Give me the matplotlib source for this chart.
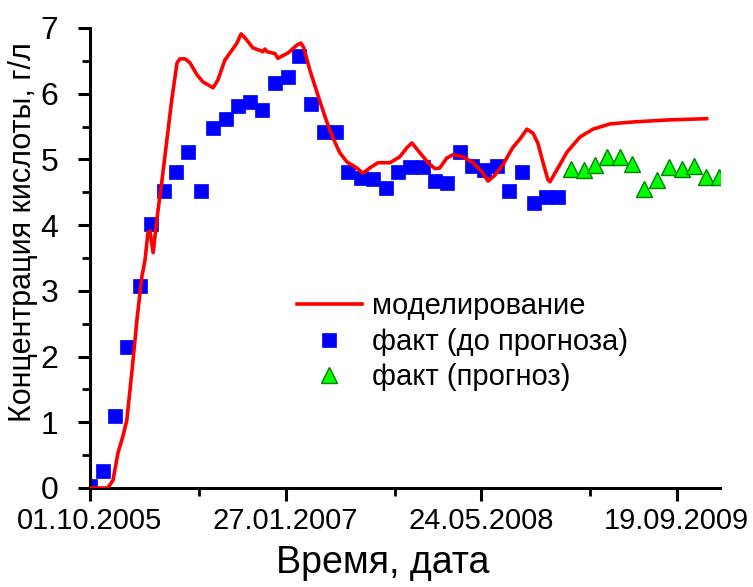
import matplotlib

matplotlib.use("Agg")

import matplotlib.dates as mdates
import matplotlib.pyplot as plt
import pandas as pd
from matplotlib.ticker import FixedLocator, MultipleLocator

OUT_PATH = "out.png"

START = pd.Timestamp("2005-10-01")
X_END = pd.Timestamp("2010-01-04")
TICK_STEP_DAYS = 483
MINOR_OFFSET_DAYS = 270

# model curve: days since 01.10.2005 and concentration, g/l
MODEL_DAYS = [
    0, 44, 57, 69, 81, 91, 104, 116, 128, 136, 143, 148, 156, 165, 178, 190,
    202, 215, 222, 235, 247, 264, 279, 304, 316, 333, 341, 363, 373, 383, 402,
    427, 432, 437, 457, 464, 489, 511, 521, 528, 543, 568, 585, 600, 617, 635,
    659, 674, 691, 711, 741, 765, 783, 795, 815, 835, 852, 864, 881, 896, 921,
    946, 968, 983, 1000, 1020, 1044, 1062, 1079, 1094, 1106, 1119, 1131, 1136,
    1153, 1178, 1210, 1242, 1284, 1341, 1425, 1523,
]
MODEL_VALUES = [
    0.00, 0.00, 0.12, 0.53, 0.78, 1.03, 1.80, 2.56, 3.21, 3.47, 3.88, 3.91,
    3.58, 4.08, 4.69, 5.30, 5.91, 6.47, 6.53, 6.53, 6.47, 6.29, 6.18, 6.09,
    6.21, 6.51, 6.58, 6.77, 6.91, 6.85, 6.70, 6.64, 6.68, 6.64, 6.61, 6.54,
    6.62, 6.74, 6.77, 6.70, 6.36, 5.88, 5.57, 5.33, 5.10, 4.96, 4.87, 4.79,
    4.87, 4.95, 4.95, 5.04, 5.18, 5.25, 5.10, 4.95, 4.86, 4.87, 5.02, 5.07,
    5.04, 4.95, 4.81, 4.67, 4.76, 4.92, 5.18, 5.31, 5.46, 5.40, 5.25, 4.95,
    4.69, 4.66, 4.84, 5.11, 5.34, 5.46, 5.54, 5.57, 5.60, 5.62,
]

# monthly measurements before the forecast
FACT_DATES = pd.date_range("2005-10-01", "2008-12-01", freq="MS")
FACT_VALUES = [
    0.03, 0.26, 1.10, 2.15, 3.07, 4.02, 4.52, 4.81, 5.11, 4.52, 5.48, 5.62,
    5.81, 5.88, 5.75, 6.16, 6.26, 6.58, 5.84, 5.42, 5.42, 4.81, 4.72, 4.70,
    4.57, 4.81, 4.89, 4.89, 4.67, 4.64, 5.11, 4.90, 4.84, 4.90, 4.52, 4.81,
    4.34, 4.43, 4.43,
]

# monthly measurements in the forecast period
FORECAST_DATES = pd.date_range("2009-01-01", "2010-01-01", freq="MS")
FORECAST_VALUES = [
    4.86, 4.84, 4.92, 5.04, 5.03, 4.93, 4.55, 4.69, 4.89, 4.86, 4.90, 4.73,
    4.73,
]

LEGEND_LABELS = ["моделирование", "факт (до прогноза)", "факт (прогноз)"]
FONT = ["Liberation Sans", "DejaVu Sans"]


def main():
    plt.rcParams["font.family"] = FONT

    fig = plt.figure(figsize=(7.53, 5.87), dpi=100)
    ax = fig.add_axes([0.1195, 0.1687, 0.8367, 0.7836])

    model_dates = START + pd.to_timedelta(MODEL_DAYS, unit="D")
    ax.plot(model_dates, MODEL_VALUES, color="#ff0000", lw=2.6,
            label=LEGEND_LABELS[0], zorder=3)
    ax.plot(FACT_DATES, FACT_VALUES, ls="none", marker="s", ms=9.4,
            mfc="#0000ff", mec="#0000ff", mew=0.5, label=LEGEND_LABELS[1],
            zorder=2)
    ax.plot(FORECAST_DATES, FORECAST_VALUES, ls="none", marker="^", ms=11.5,
            mfc="#00ff00", mec="#008000", mew=1.0, label=LEGEND_LABELS[2],
            zorder=2)

    ax.set_xlim(START, X_END)
    ax.set_ylim(0, 7)

    major = [START + pd.Timedelta(days=TICK_STEP_DAYS * k) for k in range(4)]
    minor = [d + pd.Timedelta(days=MINOR_OFFSET_DAYS) for d in major[:3]]
    ax.xaxis.set_major_locator(FixedLocator(mdates.date2num(major)))
    ax.xaxis.set_minor_locator(FixedLocator(mdates.date2num(minor)))
    ax.xaxis.set_major_formatter(mdates.DateFormatter("%d.%m.%Y"))
    ax.yaxis.set_major_locator(MultipleLocator(1))
    ax.yaxis.set_minor_locator(MultipleLocator(0.5))

    for side in ("top", "right"):
        ax.spines[side].set_visible(False)
    for side in ("left", "bottom"):
        ax.spines[side].set_linewidth(2.2)

    ax.tick_params(which="major", direction="out", length=9, width=2.2)
    ax.tick_params(which="minor", direction="out", length=6, width=2)
    ax.tick_params(axis="x", which="major", labelsize=21, pad=5)
    ax.tick_params(axis="y", which="major", labelsize=23, pad=14)

    ax.set_xlabel("Время, дата", fontsize=27)
    ax.xaxis.set_label_coords(0.465, -0.124)
    ax.set_ylabel("Концентрация кислоты, г/л", fontsize=22)
    ax.yaxis.set_label_coords(-0.083, 0.556)

    ax.legend(loc="upper left", bbox_to_anchor=(0.328, 0.425), frameon=False,
              fontsize=21, handlelength=2.25, handletextpad=0.34,
              labelspacing=0.25, borderpad=0, borderaxespad=0, numpoints=1)

    fig.savefig(OUT_PATH, dpi=100)
    plt.close(fig)


if __name__ == "__main__":
    main()
